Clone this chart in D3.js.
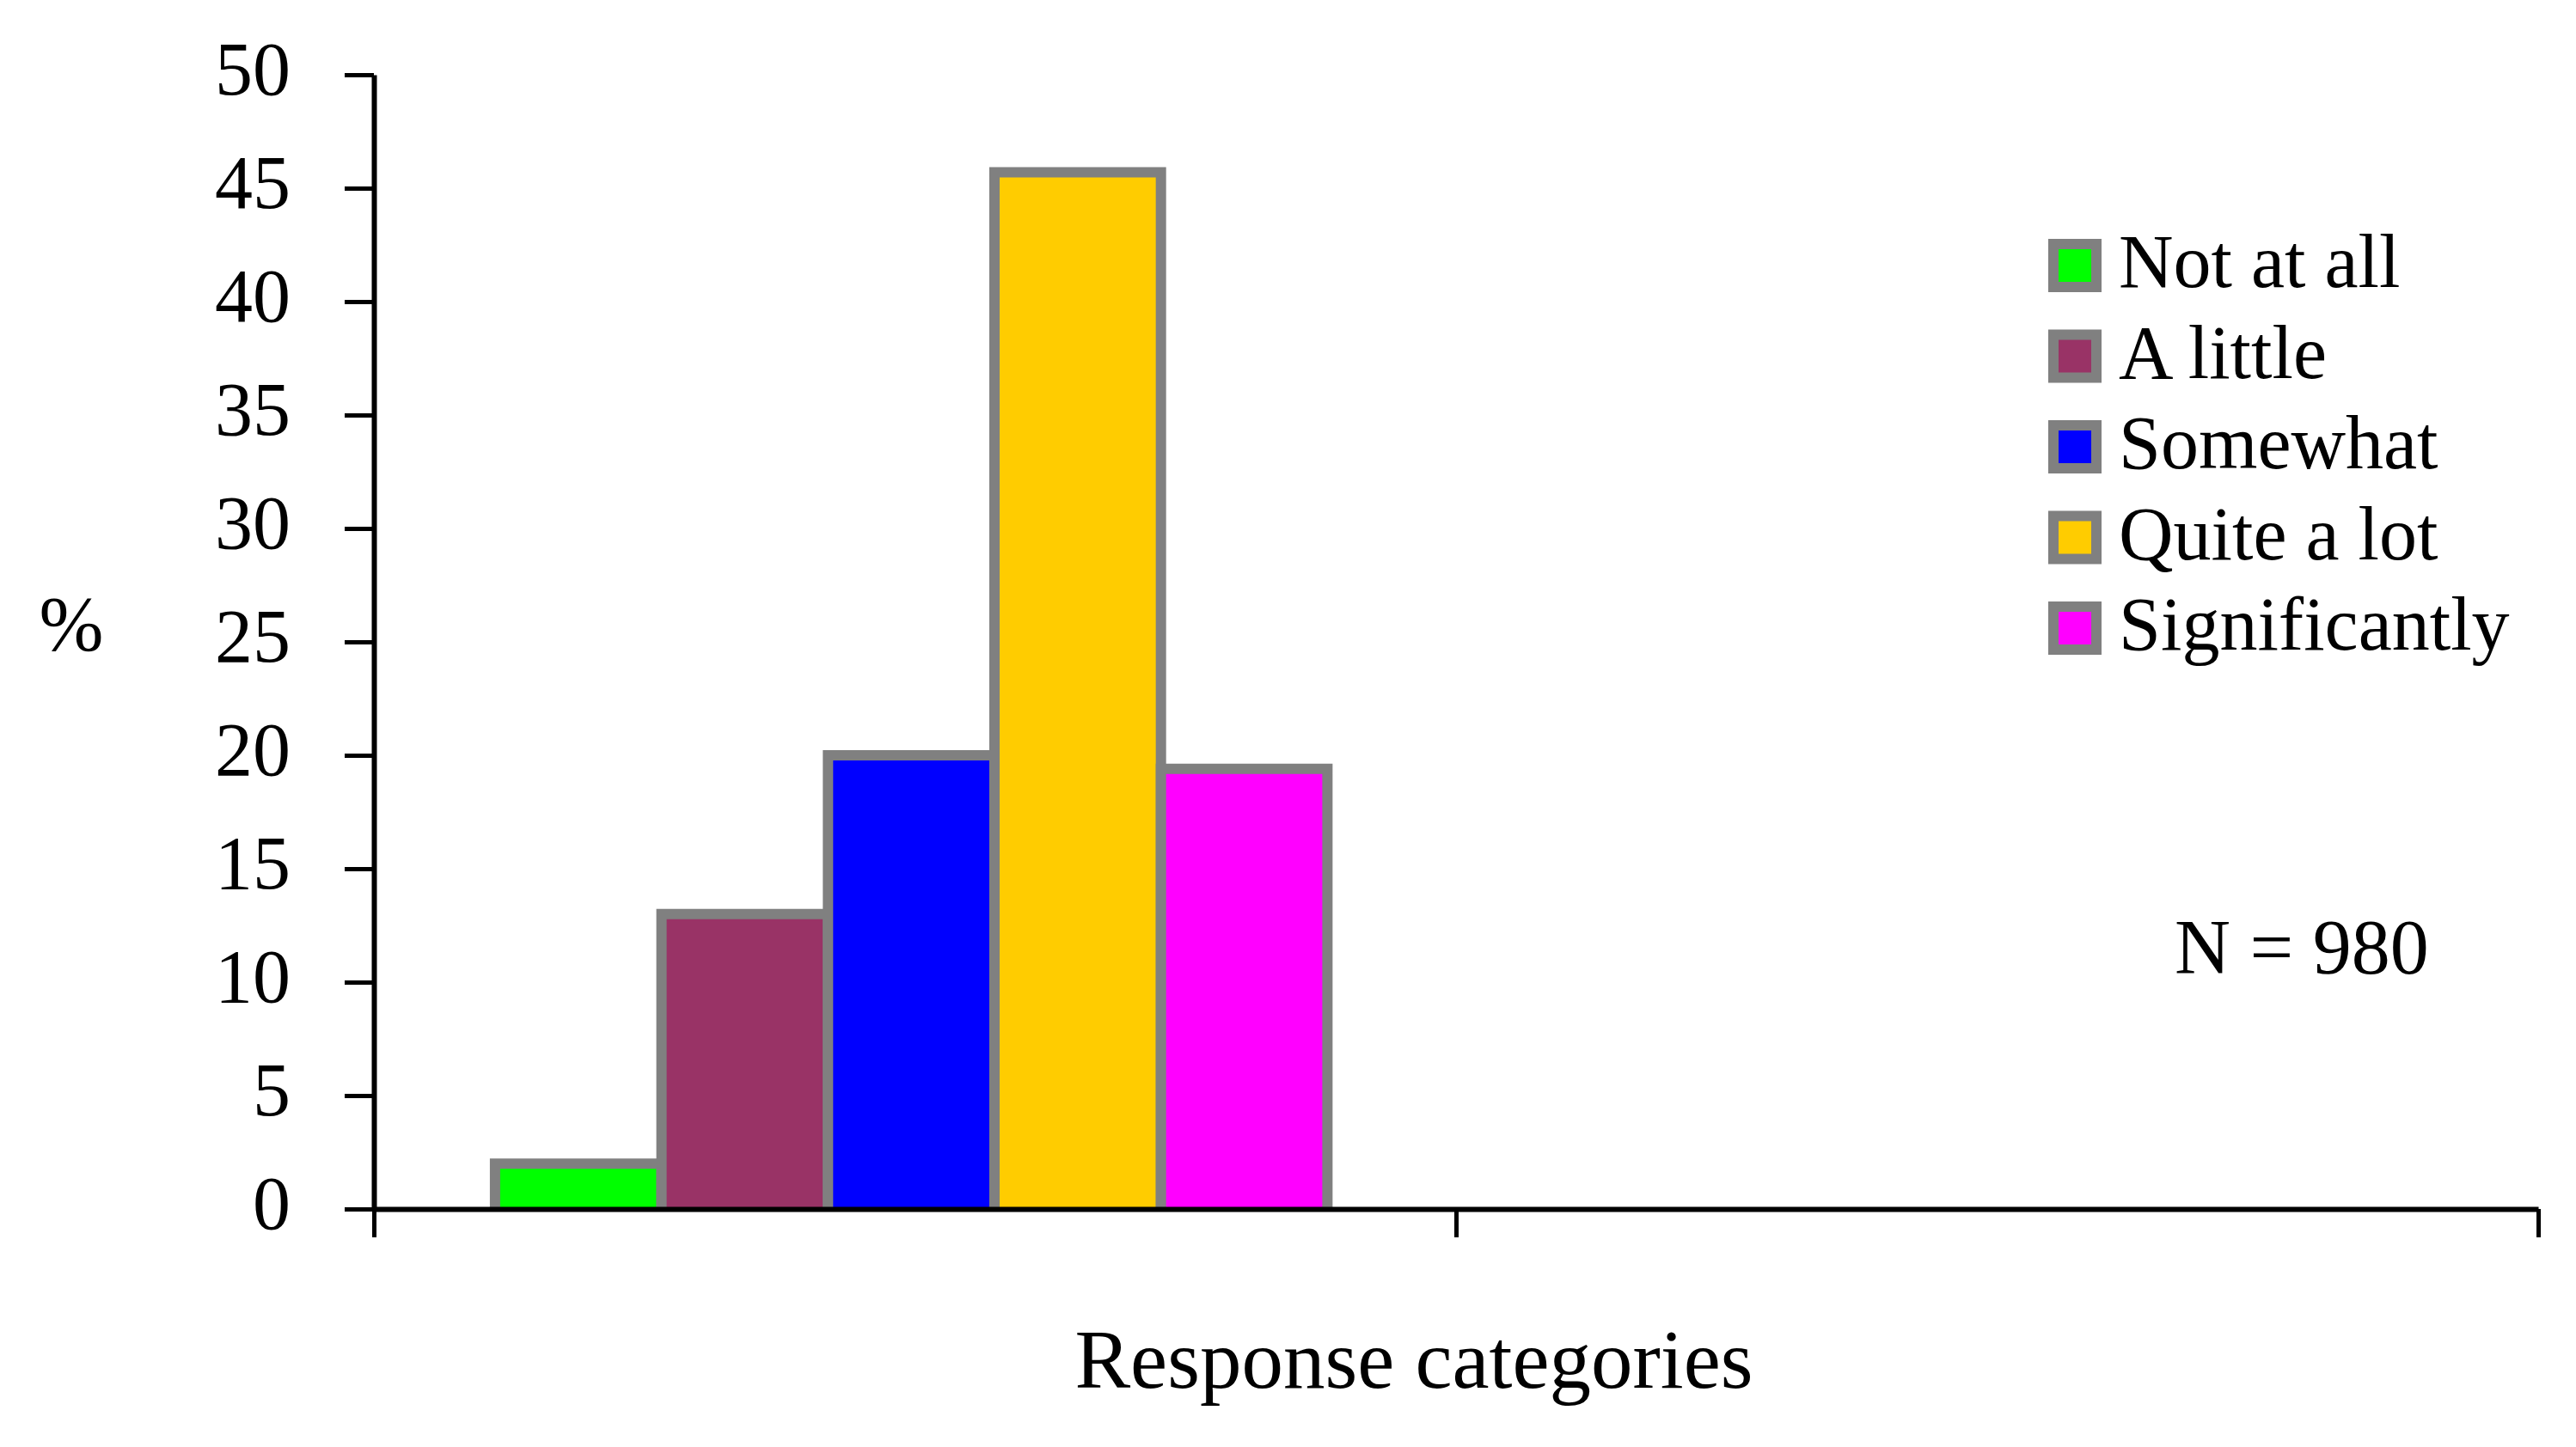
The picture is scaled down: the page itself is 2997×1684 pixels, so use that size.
<!DOCTYPE html>
<html>
<head>
<meta charset="utf-8">
<script src="https://cdn.jsdelivr.net/npm/d3@7"></script>
<style>
  body { margin: 0; background: #fff; }
  text { font-family: "Liberation Serif", "Times New Roman", serif; fill: #000; }
</style>
</head>
<body>
<svg id="chart" width="2997" height="1684"></svg>
<script>
// chart data
const groups = ["G1", "G2"];               // two category slots, no labels shown
const series = ["Not at all", "A little", "Somewhat", "Quite a lot", "Significantly"];
const values = [2.0, 13.0, 20.0, 45.7, 19.4]; // % for first slot
const colors = ["#00FF00", "#993366", "#0000FF", "#FFCC00", "#FF00FF"];
const yTicks = [0, 5, 10, 15, 20, 25, 30, 35, 40, 45, 50];

const svg = d3.select("#chart")
svg.append("rect").attr("width", 2997).attr("height", 1684).attr("fill", "#fff")

let plotLeft = 435, plotRight = 2953, plotTop = 87, plotBottom = 1407

var y = d3.scaleLinear().domain([0, 50]).range([plotBottom, plotTop])
var x0 = d3.scaleBand().domain(groups).range([plotLeft, plotRight]).padding(0)
var x1 = d3.scaleBand().domain(series).range([0, x0.bandwidth()])
  .paddingInner(0).paddingOuter(0.75).align(0.485)
var xEdge = d3.scaleLinear().domain([0, groups.length]).range([plotLeft, plotRight])

// bars (outline on three sides only, bottom sits on the axis)
svg.append("g").selectAll("path").data(series).enter().append("path")
  .attr("d", function(d, i) {
    var bx = x0(groups[0]) + x1(d), w = x1.bandwidth()
    return "M" + bx + "," + y(0) + "V" + y(values[i]) + "H" + (bx + w) + "V" + y(0)
  })
  .attr("fill", (d, i) => colors[i])
  .attr("stroke", "#808080")
  .attr("stroke-width", 12)
  .attr("stroke-linejoin", "miter")

// y axis
var yAxis = svg.append("g").attr("transform", "translate(" + plotLeft + ",0)")
  .call(d3.axisLeft(y).tickValues(yTicks).tickSize(34).tickSizeOuter(0).tickPadding(63))
yAxis.select(".domain").attr("stroke", "#000").attr("stroke-width", 6)
yAxis.selectAll(".tick line").attr("stroke", "#000").attr("stroke-width", 5)
yAxis.selectAll(".tick text").attr("font-size", 88).attr("dy", 22)
  .style("font-family", "'Liberation Serif', serif")

// x axis with ticks between category slots
var xAxis = svg.append("g").attr("transform", "translate(0," + plotBottom + ")")
  .call(d3.axisBottom(xEdge).tickValues(d3.range(groups.length + 1)).tickSize(33).tickSizeOuter(0).tickFormat(""))
xAxis.select(".domain").attr("stroke", "#000").attr("stroke-width", 6)
xAxis.selectAll(".tick line").attr("stroke", "#000").attr("stroke-width", 5)

// axis titles
svg.append("text").attr("x", 83).attr("y", 757).attr("text-anchor", "middle")
  .attr("font-size", 90).text("%")
svg.append("text").attr("x", 1645).attr("y", 1615).attr("text-anchor", "middle")
  .attr("font-size", 97).text("Response categories")

svg.append("text").attr("x", 2530).attr("y", 1133)
  .attr("font-size", 90).text("N = 980")

// legend
var legend = svg.append("g")
series.forEach(function(s, i) {
  var cy = 309 + i * 105.5
  legend.append("rect").attr("x", 2389).attr("y", cy - 25).attr("width", 50).attr("height", 50)
    .attr("fill", colors[i]).attr("stroke", "#808080").attr("stroke-width", 12)
  legend.append("text").attr("x", 2465).attr("y", cy + 25)
    .attr("font-size", 88).text(s)
})
</script>
</body>
</html>
